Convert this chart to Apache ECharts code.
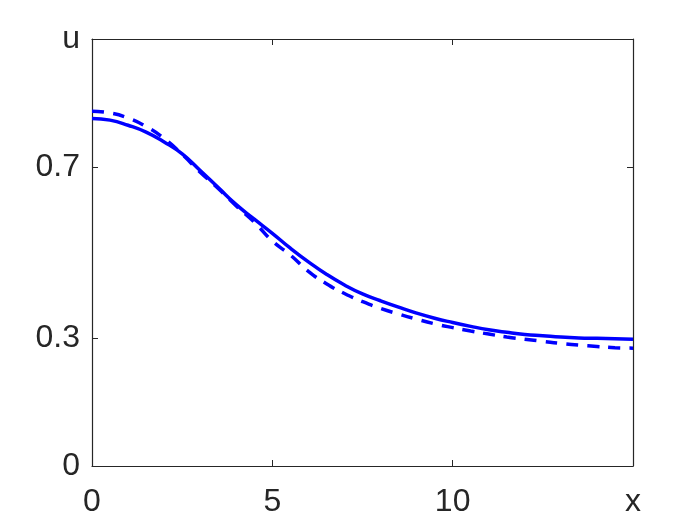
<!DOCTYPE html>
<html>
<head>
<meta charset="utf-8">
<script src="https://cdn.jsdelivr.net/npm/echarts@6/dist/echarts.min.js"></script>
<style>html,body{margin:0;padding:0;background:#fff;}#c{width:700px;height:525px;}</style>
</head>
<body>
<div id="c"></div>
<script>
const xs = [0,0.5,1,1.5,2,2.5,3,3.5,4,4.5,5,5.5,6,6.5,7,7.5,8,8.5,9,9.5,10,10.5,11,11.5,12,12.5,13,13.5,14,14.5,15];
const solidU = [0.814,0.810,0.798,0.782,0.759,0.731,0.692,0.652,0.612,0.578,0.545,0.510,0.478,0.449,0.424,0.403,0.387,0.372,0.358,0.346,0.336,0.327,0.319,0.313,0.308,0.305,0.302,0.300,0.299,0.298,0.297];
const dashedU = [0.831,0.827,0.815,0.795,0.767,0.730,0.688,0.650,0.609,0.571,0.527,0.494,0.456,0.427,0.404,0.385,0.369,0.356,0.344,0.333,0.324,0.316,0.309,0.302,0.297,0.292,0.287,0.283,0.280,0.277,0.276];
const yTicks = [0,0.3,0.7,1];
const yTickLabels = ['0','0.3','0.7','u'];
const xTicks = [0,5,10,15];
const xTickLabels = ['0','5','10','x'];

const chart = echarts.init(document.getElementById('c'), null, {renderer:'canvas'});
const axCol = '#262626';
const font = {fontFamily:'Liberation Sans, Arial, sans-serif', fontSize:32, color:axCol};
const pair = arr => xs.map((x,i)=>[x,arr[i]]);
chart.setOption({
  animation:false,
  backgroundColor:'#fff',
  grid:{left:92,right:67,top:39,bottom:59,containLabel:false},
  xAxis:[{
    type:'value',min:0,max:15,interval:5,position:'bottom',
    axisLine:{show:true,onZero:false,lineStyle:{color:axCol,width:1.2}},
    axisTick:{show:true,inside:true,length:6,lineStyle:{color:axCol}},
    axisLabel:Object.assign({margin:20,formatter:v=>xTickLabels[xTicks.indexOf(v)] ?? ''},font),
    splitLine:{show:false}
  },{
    type:'value',min:0,max:15,interval:5,position:'top',
    axisLine:{show:true,onZero:false,lineStyle:{color:axCol,width:1.2}},
    axisTick:{show:true,inside:true,length:6,lineStyle:{color:axCol}},
    axisLabel:{show:false},splitLine:{show:false}
  }],
  yAxis:[{
    type:'value',min:0,max:1,position:'left',
    axisLine:{show:true,onZero:false,lineStyle:{color:axCol,width:1.2}},
    axisTick:{show:true,inside:true,length:6,customValues:yTicks,lineStyle:{color:axCol}},
    axisLabel:Object.assign({margin:12,customValues:yTicks,formatter:v=>yTickLabels[yTicks.indexOf(v)] ?? ''},font),
    splitLine:{show:false}
  },{
    type:'value',min:0,max:1,position:'right',
    axisLine:{show:true,onZero:false,lineStyle:{color:axCol,width:1.2}},
    axisTick:{show:true,inside:true,length:6,customValues:yTicks.slice(1,3),lineStyle:{color:axCol}},
    axisLabel:{show:false},splitLine:{show:false}
  }],
  series:[{
    type:'line',data:pair(solidU),smooth:true,showSymbol:false,
    lineStyle:{color:'#0000ff',width:3.5}
  },{
    type:'line',data:pair(dashedU),smooth:true,showSymbol:false,
    lineStyle:{color:'#0000ff',width:3.5,type:[12,9]}
  }]
});
</script>
</body>
</html>
